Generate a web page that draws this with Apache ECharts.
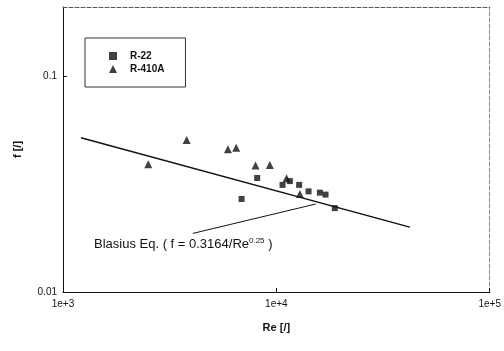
<!DOCTYPE html>
<html>
<head>
<meta charset="utf-8">
<script src="https://cdn.jsdelivr.net/npm/echarts@6/dist/echarts.min.js"></script>
<style>
  html, body { margin: 0; padding: 0; background: #fff; }
  #chart { width: 504px; height: 351px; }
</style>
</head>
<body>
<div id="chart"></div>
<script>
// R-22 measured points
const r22Re = [6870, 8130, 10690, 11570, 12790, 14150, 15990, 17000, 18790]
const r22F = [0.0270, 0.0338, 0.0314, 0.0327, 0.0314, 0.0293, 0.0289, 0.0283, 0.0245]

// R-410A measured points
const r410Re = [2510, 3800, 5930, 6480, 7990, 9320, 11160, 12890]
const r410F = [0.0391, 0.0507, 0.0460, 0.0467, 0.0386, 0.0388, 0.0337, 0.0285]

// Blasius line ends, as drawn
const blasiusRe = [1214, 42200]
const blasiusF = [0.0520, 0.0200]

// arrow from the label to the line
const arrowRe = [4060, 15300]
const arrowF = [0.0187, 0.0256]

const xTicks = ['1e+3', '1e+4', '1e+5']
const yTicks = ['0.01', '0.1']

const font = 'Liberation Sans, Arial, sans-serif'
const pair = (xs, ys) => xs.map((x, i) => [x, ys[i]])

const chart = echarts.init(document.getElementById('chart'))

chart.setOption({
  animation: false,
  backgroundColor: '#fff',
  textStyle: { fontFamily: font, color: '#111' },
  grid: { left: 63, right: 14, top: 7, bottom: 59 },
  legend: {
    data: ['R-22', 'R-410A'],
    orient: 'vertical',
    left: 85,
    top: 38,
    padding: [13, 21, 13, 24],
    itemGap: 3,
    itemWidth: 8,
    itemHeight: 8,
    borderColor: '#333',
    borderWidth: 1,
    borderRadius: 0,
    textStyle: { fontFamily: font, fontSize: 10, fontWeight: 'bold', color: '#111', padding: [0, 0, 0, 8] }
  },
  xAxis: [{
    type: 'log',
    min: 1000,
    max: 100000,
    name: 'Re [/]',
    nameLocation: 'middle',
    nameGap: 30,
    nameTextStyle: { fontFamily: font, fontSize: 11, fontWeight: 'bold', color: '#111' },
    axisLine: { lineStyle: { color: '#111', width: 1 } },
    axisTick: { inside: true, length: 4, lineStyle: { color: '#111' } },
    splitLine: { show: false },
    axisLabel: {
      fontFamily: font, fontSize: 10, color: '#111', margin: 7,
      formatter: v => xTicks[Math.round(Math.log10(v)) - 3] || ''
    }
  }, {
    type: 'log', min: 1000, max: 100000, position: 'top',
    axisLine: { lineStyle: { color: '#555', type: 'dashed', width: 1 } },
    axisTick: { show: false }, axisLabel: { show: false }, splitLine: { show: false }
  }],
  yAxis: [{
    type: 'log',
    min: 0.01,
    max: 0.21,
    name: 'f [/]',
    nameLocation: 'middle',
    nameGap: 40,
    nameTextStyle: { fontFamily: font, fontSize: 11, fontWeight: 'bold', color: '#111' },
    axisLine: { lineStyle: { color: '#111', width: 1 } },
    axisTick: { inside: true, length: 4, lineStyle: { color: '#111' } },
    splitLine: { show: false },
    axisLabel: {
      fontFamily: font, fontSize: 10, color: '#111', margin: 6, showMaxLabel: false,
      formatter: v => {
        const e = Math.log10(v)
        return Math.abs(e - Math.round(e)) < 1e-6 ? (yTicks[Math.round(e) + 2] || '') : ''
      }
    }
  }, {
    type: 'log', min: 0.01, max: 0.21, position: 'right',
    axisLine: { lineStyle: { color: '#888', type: 'dashed', width: 1 } },
    axisTick: { show: false }, axisLabel: { show: false }, splitLine: { show: false }
  }],
  series: [
    {
      name: 'Blasius',
      type: 'line',
      data: pair(blasiusRe, blasiusF),
      symbol: 'none',
      lineStyle: { color: '#111', width: 1.5 },
      silent: true,
      z: 1
    },
    {
      name: 'arrow',
      type: 'line',
      data: [],
      markLine: {
        silent: true,
        symbol: ['none', 'arrow'],
        symbolSize: [0, 7],
        label: { show: false },
        lineStyle: { color: '#111', width: 1, type: 'solid' },
        data: [[{ coord: [arrowRe[0], arrowF[0]] }, { coord: [arrowRe[1], arrowF[1]] }]]
      }
    },
    {
      name: 'R-22',
      type: 'scatter',
      symbol: 'rect',
      symbolSize: 6,
      itemStyle: { color: '#111' },
      data: pair(r22Re, r22F),
      z: 3
    },
    {
      name: 'R-410A',
      type: 'scatter',
      symbol: 'triangle',
      symbolSize: 8,
      itemStyle: { color: '#111' },
      data: pair(r410Re, r410F),
      z: 3
    }
  ],
  graphic: [{
    type: 'text',
    left: 94,
    top: 237,
    style: {
      text: 'Blasius Eq. ( f = 0.3164/Re{sup|0.25} )',
      font: '13px ' + font,
      fill: '#111',
      rich: {
        sup: { fontSize: 8, fontFamily: font, fill: '#111', verticalAlign: 'top', padding: [0, 0, 6, 0] }
      }
    }
  }]
})

window.addEventListener('resize', () => {
  chart.resize()
})
</script>
</body>
</html>
